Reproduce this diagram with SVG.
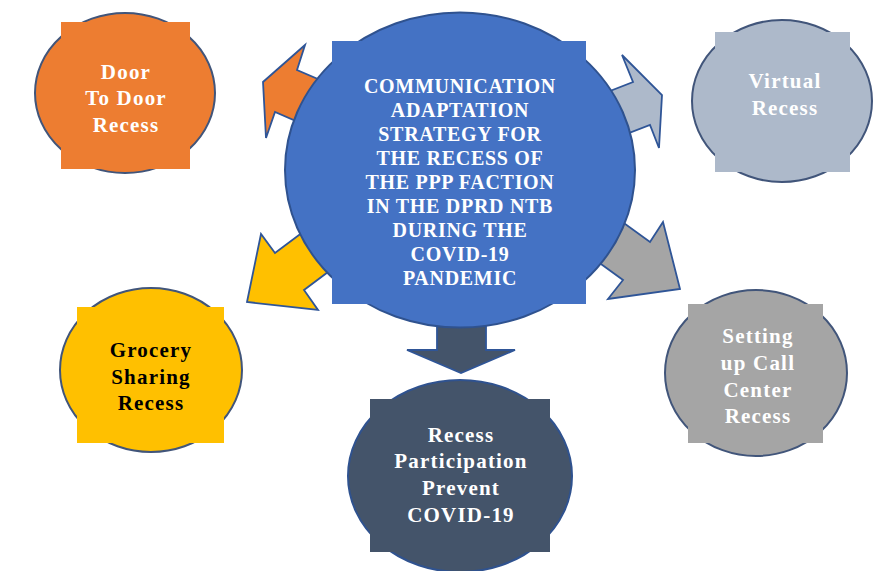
<svg xmlns="http://www.w3.org/2000/svg" width="874" height="571" viewBox="0 0 874 571">
<style>
.arrow{stroke:#2F5597;stroke-width:1.8;stroke-linejoin:miter}
.ring{stroke:#41557A;stroke-width:2}
.t{font-family:"Liberation Serif","Times New Roman",serif;font-weight:bold;text-anchor:middle}
.ct{font-size:20px;letter-spacing:0.7px;fill:#FFFFFF}
.ot{font-size:21px;letter-spacing:1.2px}
.w{fill:#FFFFFF}
.k{fill:#000000}
</style>
<rect width="874" height="571" fill="#FFFFFF"/>
<g id="connectors">
<polygon class="arrow" fill="#ED7D31" points="305,45 263,82 266,138 275,112 312,128 334,86 297,70"/>
<polygon class="arrow" fill="#ADB9CA" points="622,55 662,95 659,148 650,125 603,143 587,100 633,82"/>
<polygon class="arrow" fill="#FFC000" points="261,234 247,302 318,310 304,290 344,260 315,223 275,253"/>
<polygon class="arrow" fill="#A5A5A5" points="663,222 680,289 608,299 623,280 583,251 610,213 650,242"/>
<polygon class="arrow" fill="#44546A" points="437,310 486,310 486,350 515,350 461,373 407,350 437,350"/>
</g>
<g id="center">
<ellipse cx="460" cy="170" rx="175" ry="157.5" fill="#4472C4" stroke="#2F528F" stroke-width="2"/>
<rect x="332" y="41" width="254" height="263" fill="#4472C4"/>
<text class="t ct" x="460" y="93">COMMUNICATION</text>
<text class="t ct" x="460" y="117">ADAPTATION</text>
<text class="t ct" x="460" y="141">STRATEGY FOR</text>
<text class="t ct" x="460" y="165">THE RECESS OF</text>
<text class="t ct" x="460" y="189">THE PPP FACTION</text>
<text class="t ct" x="460" y="213">IN THE DPRD NTB</text>
<text class="t ct" x="460" y="237">DURING THE</text>
<text class="t ct" x="460" y="261">COVID-19</text>
<text class="t ct" x="460" y="285">PANDEMIC</text>
</g>
<g id="door">
<ellipse class="ring" cx="125" cy="93" rx="90" ry="80" fill="#ED7D31"/>
<rect x="61" y="22" width="129" height="147" fill="#ED7D31"/>
<text class="t ot w" x="126" y="79">Door</text>
<text class="t ot w" x="126" y="105">To Door</text>
<text class="t ot w" x="126" y="132">Recess</text>
</g>
<g id="virtual">
<ellipse class="ring" cx="782" cy="101" rx="90" ry="81" fill="#ADB9CA"/>
<rect x="715" y="32" width="135" height="140" fill="#ADB9CA"/>
<text class="t ot w" x="785" y="88">Virtual</text>
<text class="t ot w" x="785" y="115">Recess</text>
</g>
<g id="grocery">
<ellipse class="ring" cx="151" cy="370" rx="91" ry="82" fill="#FFC000" stroke="#2F5597"/>
<rect x="77" y="307" width="147" height="136" fill="#FFC000"/>
<text class="t ot k" x="151" y="357">Grocery</text>
<text class="t ot k" x="151" y="384">Sharing</text>
<text class="t ot k" x="151" y="410">Recess</text>
</g>
<g id="callcenter">
<ellipse class="ring" cx="756" cy="373" rx="91" ry="83" fill="#A5A5A5"/>
<rect x="688" y="304" width="135" height="139" fill="#A5A5A5"/>
<text class="t ot w" x="758" y="343">Setting</text>
<text class="t ot w" x="758" y="370">up Call</text>
<text class="t ot w" x="758" y="397">Center</text>
<text class="t ot w" x="758" y="423">Recess</text>
</g>
<g id="participation">
<ellipse cx="460" cy="476" rx="112" ry="96" fill="#44546A" stroke="#2F528F" stroke-width="2"/>
<rect x="370" y="399" width="180" height="153" fill="#44546A"/>
<text class="t ot w" x="461" y="442">Recess</text>
<text class="t ot w" x="461" y="468">Participation</text>
<text class="t ot w" x="461" y="495">Prevent</text>
<text class="t ot w" x="461" y="522">COVID-19</text>
</g>
</svg>
